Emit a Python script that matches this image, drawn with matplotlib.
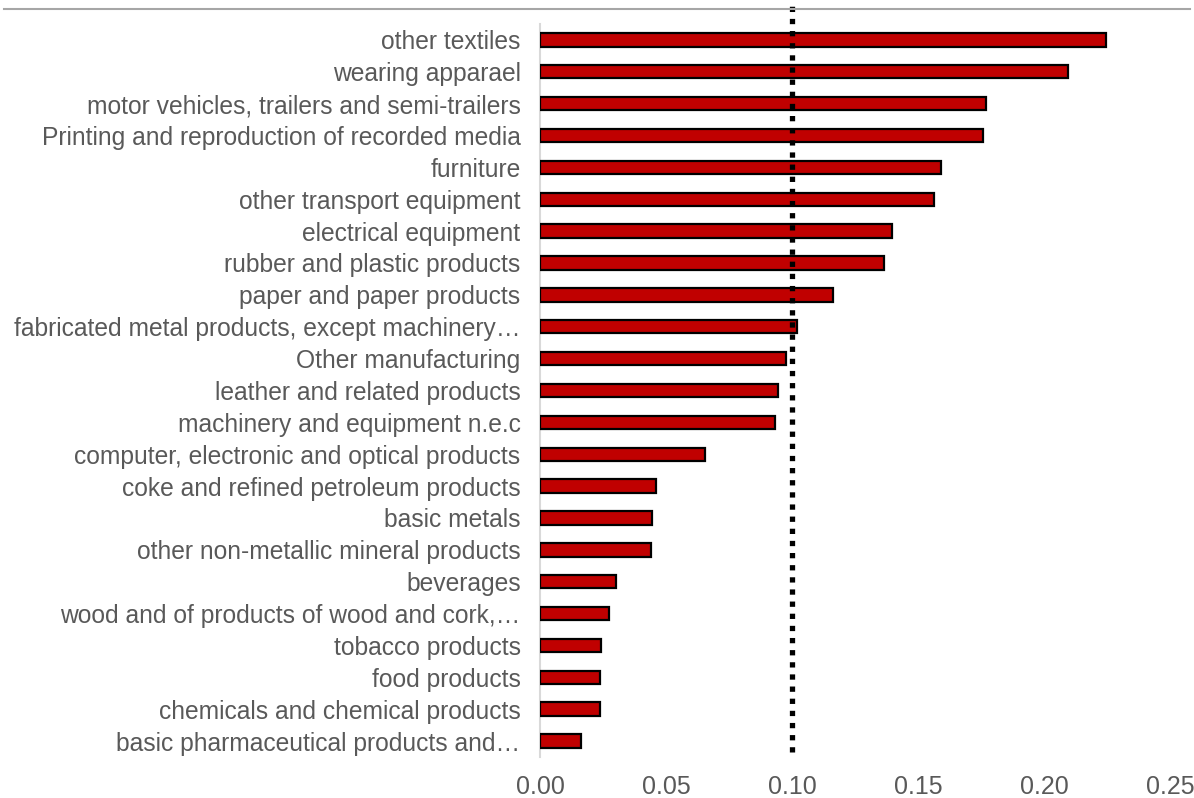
import matplotlib
matplotlib.use("Agg")
import matplotlib.pyplot as plt
from matplotlib.lines import Line2D

# industries, top to bottom as drawn
industries = [
    "other textiles",
    "wearing apparael",
    "motor vehicles, trailers and semi-trailers",
    "Printing and reproduction of recorded media",
    "furniture",
    "other transport equipment",
    "electrical equipment",
    "rubber and plastic products",
    "paper and paper products",
    "fabricated metal products, except machinery\u2026",
    "Other manufacturing",
    "leather and related products",
    "machinery and equipment n.e.c",
    "computer, electronic and optical products",
    "coke and refined petroleum products",
    "basic metals",
    "other non-metallic mineral products",
    "beverages",
    "wood and of products of wood and cork,\u2026",
    "tobacco products",
    "food products",
    "chemicals and chemical products",
    "basic pharmaceutical products and\u2026",
]
values = [0.2246, 0.2095, 0.1770, 0.1758, 0.1590, 0.1562, 0.1397, 0.1365,
          0.1163, 0.1020, 0.0976, 0.0944, 0.0933, 0.0655, 0.0460, 0.0444,
          0.0440, 0.0302, 0.0274, 0.0242, 0.0238, 0.0238, 0.0163]
threshold = 0.10
xticks = [0.00, 0.05, 0.10, 0.15, 0.20, 0.25]

plt.rcParams['font.family'] = ['Liberation Sans', 'DejaVu Sans']
grey = '#595959'

fig = plt.figure(figsize=(11.94, 7.98), dpi=100)
ax = fig.add_axes([0.4523, 0.0514, 0.5277, 0.9186])

pos = list(range(len(industries)))[::-1]
ax.barh(pos, values, height=0.42, color='#c00000', edgecolor='black', linewidth=1.6, zorder=3)
ax.axvline(threshold, ymin=0.007, ymax=1.026, color='black', lw=3.8,
           linestyle=(0, (1, 1.3)), clip_on=False, zorder=4)

ax.set_xlim(0, 0.25)
ax.set_ylim(-0.5, len(industries) - 0.5)
ax.set_yticks(pos)
ax.set_yticklabels(industries, fontsize=17.7, color=grey)
ax.set_xticks(xticks)
ax.set_xticklabels(['%.2f' % t for t in xticks], fontsize=18, color=grey)
ax.tick_params(axis='y', length=0, pad=14)
ax.tick_params(axis='x', length=0, pad=13)
for s in ['top', 'right', 'bottom']:
    ax.spines[s].set_visible(False)
ax.spines['left'].set_color('#d9d9d9')
ax.spines['left'].set_linewidth(1.5)

# thin frame line along the top edge
fig.add_artist(Line2D([0.003, 0.997], [0.989, 0.989], color='#a6a6a6', lw=1.5))

fig.savefig('out.png', dpi=100)
